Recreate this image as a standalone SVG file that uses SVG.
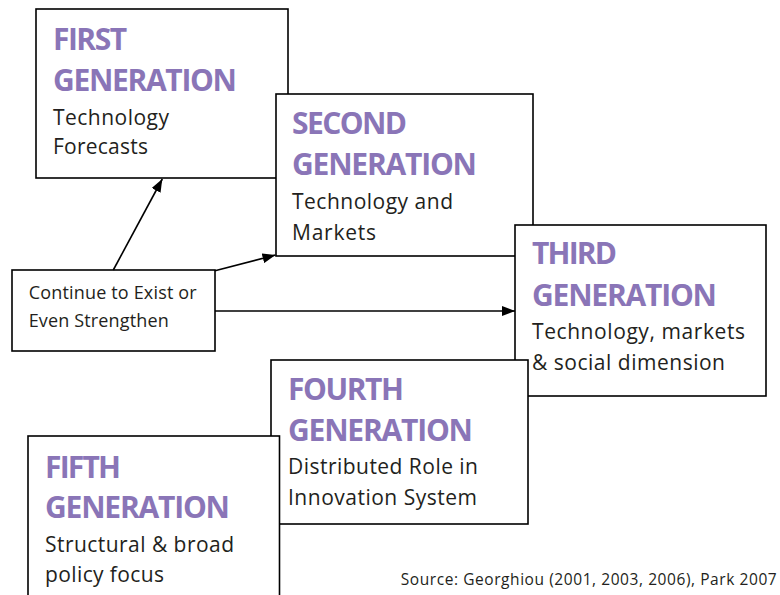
<svg xmlns="http://www.w3.org/2000/svg" width="780" height="595" viewBox="0 0 780 595">
  <style>
    .box { fill: #ffffff; stroke: #000000; stroke-width: 1.6; }
    .title { font-family: "Open Sans", "Liberation Sans", sans-serif; font-weight: bold; font-size: 30px; fill: #8a75b7; }
    .body { font-family: "Open Sans", "Liberation Sans", sans-serif; font-size: 21px; fill: #231f20; }
    .small { font-family: "Open Sans", "Liberation Sans", sans-serif; font-size: 18px; fill: #231f20; }
    .note { font-family: "Open Sans", "Liberation Sans", sans-serif; font-size: 15.5px; fill: #231f20; }
    .link { fill: none; stroke: #000000; stroke-width: 1.6; marker-end: url(#arrow); }
  </style>
  <defs>
    <marker id="arrow" markerUnits="userSpaceOnUse" markerWidth="13" markerHeight="10" viewBox="0 0 13 10" refX="13" refY="5" orient="auto">
      <path d="M0,0 L13,5 L0,10 z" fill="#000000"/>
    </marker>
  </defs>

  <!-- generation boxes, later ones stacked over earlier ones -->
  <g id="first">
    <rect class="box" x="36" y="9" width="252" height="169"/>
    <text class="title" x="53" y="50" textLength="74">FIRST</text>
    <text class="title" x="53" y="90.7" textLength="184">GENERATION</text>
    <text class="body" x="53" y="125" textLength="116">Technology</text>
    <text class="body" x="53" y="154.3" textLength="95">Forecasts</text>
  </g>

  <g id="second">
    <rect class="box" x="276" y="94" width="257" height="162"/>
    <text class="title" x="292" y="134.3" textLength="115">SECOND</text>
    <text class="title" x="292" y="175" textLength="185">GENERATION</text>
    <text class="body" x="292" y="209.3" textLength="161">Technology and</text>
    <text class="body" x="292" y="240" textLength="84">Markets</text>
  </g>

  <g id="third">
    <rect class="box" x="515" y="225" width="251" height="171"/>
    <text class="title" x="532" y="264.3" textLength="85">THIRD</text>
    <text class="title" x="532" y="305.7" textLength="185">GENERATION</text>
    <text class="body" x="532" y="339.3" textLength="213">Technology, markets</text>
    <text class="body" x="532" y="370" textLength="193">&amp; social dimension</text>
  </g>

  <g id="fourth">
    <rect class="box" x="271" y="360" width="257" height="164"/>
    <text class="title" x="288" y="400" textLength="116">FOURTH</text>
    <text class="title" x="288" y="440.7" textLength="185">GENERATION</text>
    <text class="body" x="288" y="474.3" textLength="190">Distributed Role in</text>
    <text class="body" x="288" y="505.3" textLength="189">Innovation System</text>
  </g>

  <g id="fifth">
    <rect class="box" x="28" y="436" width="251.5" height="170"/>
    <text class="title" x="45" y="477.7" textLength="76">FIFTH</text>
    <text class="title" x="45" y="518.3" textLength="185">GENERATION</text>
    <text class="body" x="45" y="551.7" textLength="189">Structural &amp; broad</text>
    <text class="body" x="45" y="581.7" textLength="119">policy focus</text>
  </g>

  <g id="persist">
    <rect class="box" x="12" y="270" width="203" height="81"/>
    <text class="small" x="28.7" y="299" textLength="168">Continue to Exist or</text>
    <text class="small" x="28.7" y="326.7" textLength="140">Even Strengthen</text>
  </g>

  <g id="connectors">
    <line class="link" x1="113.3" y1="270" x2="162.3" y2="179"/>
    <line class="link" x1="215" y1="270.7" x2="275.5" y2="255"/>
    <line class="link" x1="215" y1="311" x2="515" y2="311"/>
  </g>

  <text class="note" x="400.7" y="585" textLength="376">Source: Georghiou (2001, 2003, 2006), Park 2007</text>
</svg>
